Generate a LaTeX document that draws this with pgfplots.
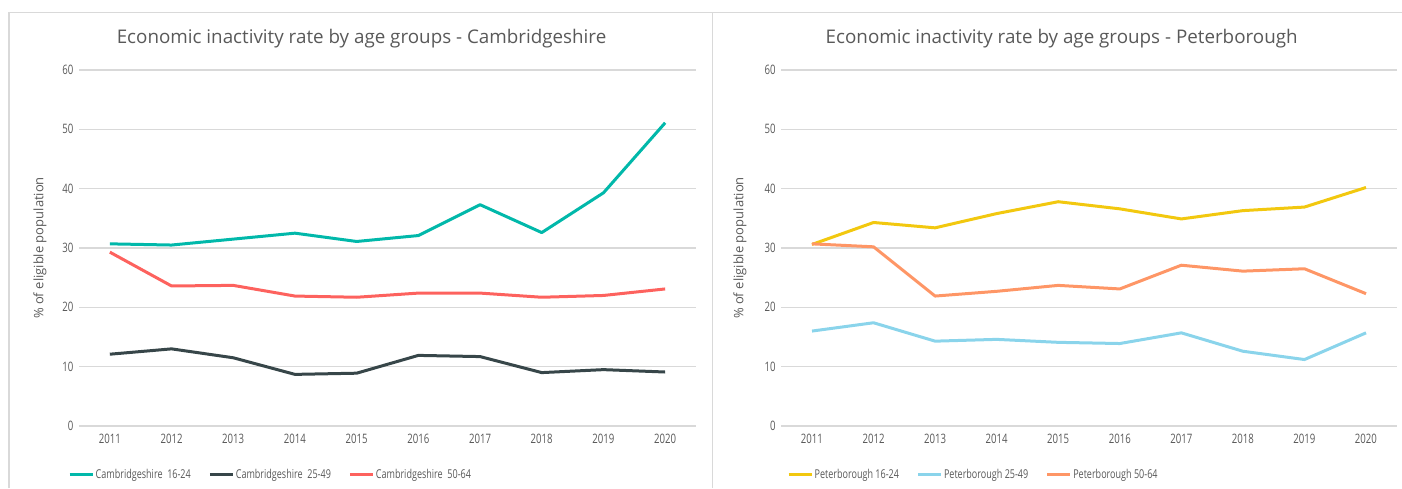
\documentclass[border=0pt]{standalone}
\usepackage{pgfplots}
\pgfplotsset{compat=1.18}
\usepackage{fontspec}
\setmainfont{Open Sans}[FakeStretch=0.74]
\newfontfamily\widefont{Open Sans}
\definecolor{cteal}{HTML}{01B8AA}
\definecolor{cdark}{HTML}{374649}
\definecolor{cred}{HTML}{FD625E}
\definecolor{cyel}{HTML}{F2C80F}
\definecolor{cblue}{HTML}{8AD4EB}
\definecolor{corange}{HTML}{FE9666}
\definecolor{cgrid}{HTML}{D9D9D9}
\definecolor{ctext}{HTML}{595959}
\definecolor{cframe}{HTML}{D9D9D9}
\pgfplotsset{
  panel/.style={
    scale only axis,
    clip=false,
    height=356pt,
    xmin=2010.5, xmax=2020.5,
    ymin=0, ymax=60,
    xtick={2011,...,2020},
    ytick={0,10,...,60},
    xticklabel style={/pgf/number format/1000 sep={}},
    /pgf/number format/assume math mode=true,
    ymajorgrids,
    grid style={cgrid, line width=1.2pt},
    axis line style={draw=none},
    major tick style={draw=none},
    tick label style={font=\fontsize{13}{15}\selectfont, text=ctext},
    xticklabel style={yshift=-5pt},
    yticklabel style={xshift=-2pt},
    ylabel={\% of eligible population},
    ylabel style={font=\widefont\fontsize{13}{15}\selectfont, text=ctext, anchor=center},
    legend columns=3,
    legend style={draw=none, fill=none, font=\fontsize{12.2}{14}\selectfont, text=ctext,
      anchor=west, inner sep=0pt, nodes={inner sep=1.5pt},
      /tikz/every even column/.append style={column sep=16pt}},
    legend image code/.code={\draw[#1, line width=3pt] (0pt,0pt) -- (23pt,0pt);},
    every axis plot/.append style={line width=3pt, line join=round},
  }
}
\begin{document}
\begin{tikzpicture}[x=1pt,y=1pt]
\useasboundingbox (0,0) rectangle (1402,488);
% panel frames
\draw[cframe, line width=1.5pt] (9,0) -- (9,475.5) -- (1402,475.5);
\draw[cframe, line width=1.8pt] (712.5,0) -- (712.5,475.5);
% Left panel
\begin{axis}[panel, width=617pt, at={(79pt,62pt)}, anchor=south west,
  ylabel style={at={(axis description cs:-0.0632,0.5)}},
  legend style={at={(axis description cs:-0.0178,-0.1376)}}]
\node[font=\widefont\fontsize{18.8}{22}\selectfont, text=ctext] at (axis description cs:0.4579,1.087) {Economic inactivity rate by age groups - Cambridgeshire};
\addplot[cteal] coordinates {(2011,30.7) (2012,30.5) (2013,31.5) (2014,32.5) (2015,31.1) (2016,32.1) (2017,37.3) (2018,32.6) (2019,39.3) (2020,51.1)};
\addlegendentry{Cambridgeshire\ \ 16-24}
\addplot[cdark] coordinates {(2011,12.1) (2012,13.0) (2013,11.5) (2014,8.7) (2015,8.9) (2016,11.9) (2017,11.7) (2018,9.0) (2019,9.5) (2020,9.1)};
\addlegendentry{Cambridgeshire\ \ 25-49}
\addplot[cred] coordinates {(2011,29.3) (2012,23.6) (2013,23.7) (2014,21.9) (2015,21.7) (2016,22.4) (2017,22.4) (2018,21.7) (2019,22.0) (2020,23.1)};
\addlegendentry{Cambridgeshire\ \ 50-64}
\end{axis}
% Right panel
\begin{axis}[panel, width=615.6pt, at={(781.2pt,62pt)}, anchor=south west,
  ylabel style={at={(axis description cs:-0.0669,0.5)}},
  legend style={at={(axis description cs:0.0094,-0.1376)}}]
\node[font=\widefont\fontsize{18.8}{22}\selectfont, text=ctext] at (axis description cs:0.4556,1.087) {Economic inactivity rate by age groups - Peterborough};
\addplot[cyel] coordinates {(2011,30.6) (2012,34.3) (2013,33.4) (2014,35.8) (2015,37.8) (2016,36.6) (2017,34.9) (2018,36.3) (2019,36.9) (2020,40.2)};
\addlegendentry{Peterborough 16-24}
\addplot[cblue] coordinates {(2011,16.0) (2012,17.4) (2013,14.3) (2014,14.6) (2015,14.1) (2016,13.9) (2017,15.7) (2018,12.6) (2019,11.2) (2020,15.7)};
\addlegendentry{Peterborough 25-49}
\addplot[corange] coordinates {(2011,30.7) (2012,30.2) (2013,21.9) (2014,22.7) (2015,23.7) (2016,23.1) (2017,27.1) (2018,26.1) (2019,26.5) (2020,22.3)};
\addlegendentry{Peterborough 50-64}
\end{axis}
\end{tikzpicture}
\end{document}
